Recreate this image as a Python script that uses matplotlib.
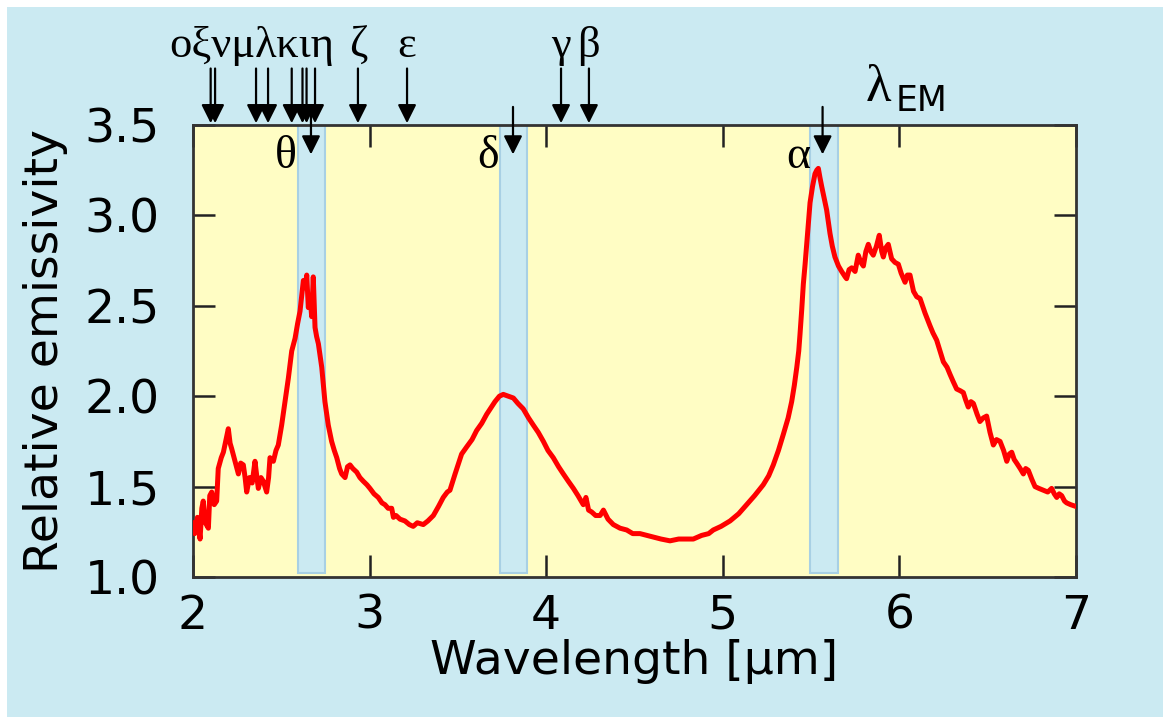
import matplotlib.pyplot as plt
from matplotlib.patches import Rectangle

# Emissivity spectrum
wl = [2.000, 2.010, 2.025, 2.040, 2.050, 2.058, 2.070, 2.087, 2.095, 2.106, 2.120, 2.134,
      2.143, 2.160, 2.172, 2.185, 2.200, 2.210, 2.219, 2.230, 2.238, 2.257, 2.270, 2.285,
      2.295, 2.304, 2.320, 2.335, 2.351, 2.362, 2.370, 2.385, 2.398, 2.417, 2.428, 2.436,
      2.455, 2.470, 2.483, 2.502, 2.521, 2.540, 2.559, 2.578, 2.592, 2.606, 2.615, 2.625,
      2.635, 2.644, 2.653, 2.663, 2.672, 2.681, 2.691, 2.700, 2.710, 2.729, 2.747, 2.766,
      2.785, 2.800, 2.814, 2.830, 2.842, 2.861, 2.875, 2.889, 2.905, 2.927, 2.945, 2.964,
      2.985, 3.002, 3.025, 3.049, 3.070, 3.087, 3.105, 3.125, 3.135, 3.150, 3.172, 3.200,
      3.225, 3.247, 3.270, 3.304, 3.330, 3.361, 3.390, 3.417, 3.440, 3.455, 3.484, 3.521,
      3.550, 3.580, 3.606, 3.635, 3.663, 3.690, 3.710, 3.735, 3.757, 3.785, 3.814, 3.840,
      3.870, 3.900, 3.927, 3.955, 3.984, 4.010, 4.040, 4.070, 4.097, 4.125, 4.154, 4.180,
      4.210, 4.225, 4.240, 4.257, 4.280, 4.305, 4.324, 4.350, 4.380, 4.418, 4.456, 4.490,
      4.531, 4.570, 4.610, 4.650, 4.701, 4.750, 4.790, 4.833, 4.880, 4.920, 4.946, 4.990,
      5.041, 5.090, 5.135, 5.180, 5.229, 5.260, 5.286, 5.315, 5.343, 5.370, 5.390, 5.405,
      5.419, 5.430, 5.437, 5.447, 5.456, 5.466, 5.475, 5.485, 5.494, 5.508, 5.522, 5.532,
      5.541, 5.550, 5.560, 5.575, 5.588, 5.607, 5.620, 5.635, 5.655, 5.673, 5.693, 5.701,
      5.715, 5.730, 5.749, 5.767, 5.782, 5.796, 5.810, 5.824, 5.838, 5.852, 5.870, 5.886,
      5.900, 5.909, 5.922, 5.937, 5.956, 5.975, 5.994, 6.010, 6.032, 6.045, 6.060, 6.080,
      6.098, 6.117, 6.145, 6.173, 6.190, 6.211, 6.230, 6.249, 6.270, 6.287, 6.305, 6.324,
      6.345, 6.362, 6.375, 6.390, 6.405, 6.419, 6.440, 6.456, 6.475, 6.494, 6.513, 6.532,
      6.550, 6.570, 6.590, 6.608, 6.622, 6.636, 6.650, 6.664, 6.684, 6.702, 6.715, 6.730,
      6.750, 6.768, 6.790, 6.815, 6.840, 6.862, 6.877, 6.891, 6.905, 6.919, 6.935, 6.947,
      6.970, 7.000]
emis = [1.30, 1.24, 1.33, 1.21, 1.38, 1.42, 1.30, 1.27, 1.45, 1.47, 1.40, 1.42,
        1.60, 1.66, 1.69, 1.75, 1.82, 1.74, 1.71, 1.67, 1.64, 1.57, 1.63, 1.62,
        1.55, 1.47, 1.55, 1.52, 1.64, 1.55, 1.49, 1.55, 1.53, 1.47, 1.55, 1.66,
        1.64, 1.70, 1.73, 1.84, 1.97, 2.10, 2.25, 2.32, 2.40, 2.47, 2.55, 2.64,
        2.60, 2.67, 2.49, 2.55, 2.44, 2.66, 2.38, 2.33, 2.29, 2.16, 1.97, 1.84,
        1.75, 1.70, 1.66, 1.60, 1.57, 1.55, 1.61, 1.62, 1.60, 1.58, 1.55, 1.53,
        1.51, 1.49, 1.46, 1.44, 1.41, 1.40, 1.38, 1.38, 1.33, 1.34, 1.32, 1.31,
        1.29, 1.28, 1.30, 1.29, 1.31, 1.34, 1.39, 1.44, 1.47, 1.48, 1.57, 1.68,
        1.72, 1.76, 1.81, 1.85, 1.90, 1.94, 1.97, 2.00, 2.01, 2.00, 1.99, 1.96,
        1.93, 1.88, 1.84, 1.80, 1.75, 1.70, 1.66, 1.61, 1.57, 1.53, 1.49, 1.45,
        1.40, 1.44, 1.37, 1.36, 1.34, 1.34, 1.37, 1.32, 1.29, 1.27, 1.26, 1.24,
        1.24, 1.23, 1.22, 1.21, 1.20, 1.21, 1.21, 1.21, 1.23, 1.24, 1.26, 1.28,
        1.31, 1.35, 1.40, 1.45, 1.51, 1.56, 1.62, 1.70, 1.79, 1.88, 1.97, 2.06,
        2.16, 2.25, 2.34, 2.48, 2.62, 2.73, 2.84, 2.96, 3.07, 3.16, 3.23, 3.25,
        3.26, 3.21, 3.16, 3.09, 3.03, 2.90, 2.83, 2.77, 2.72, 2.69, 2.66, 2.65,
        2.70, 2.71, 2.69, 2.78, 2.74, 2.72, 2.80, 2.84, 2.80, 2.78, 2.83, 2.89,
        2.80, 2.77, 2.82, 2.84, 2.76, 2.74, 2.73, 2.68, 2.63, 2.67, 2.67, 2.58,
        2.55, 2.54, 2.46, 2.39, 2.35, 2.31, 2.25, 2.19, 2.16, 2.12, 2.08, 2.04,
        2.03, 2.02, 1.98, 1.94, 1.97, 1.96, 1.90, 1.86, 1.88, 1.89, 1.80, 1.73,
        1.76, 1.75, 1.70, 1.64, 1.68, 1.69, 1.65, 1.63, 1.60, 1.57, 1.60, 1.59,
        1.54, 1.50, 1.49, 1.48, 1.47, 1.49, 1.46, 1.44, 1.46, 1.45, 1.42, 1.41,
        1.40, 1.39]

# emission lines marked above the plot
top_lines = [2.100, 2.125, 2.357, 2.425, 2.559, 2.620, 2.643, 2.691, 2.934, 3.212, 4.084, 4.242]
top_labels = [("οξνμλκιη", 2.335), ("ζ", 2.934), ("ε", 3.212), ("γ", 4.084), ("β", 4.242)]

# filter bands with their own line
bands = [(2.595, 2.747), (3.738, 3.891), (5.494, 5.652)]
band_lines = [2.668, 3.812, 5.565]
band_labels = ["θ", "δ", "α"]

bg = '#cbeaf2'
fig = plt.figure(figsize=(11.63, 7.17), dpi=100, facecolor='white')
fig.patches.append(Rectangle((7/1163, 0), 1, 1 - 7/717, transform=fig.transFigure,
                             facecolor=bg, edgecolor='none', zorder=-10))
ax = fig.add_axes([193/1163, 1 - 577/717, (1076 - 193)/1163, (577 - 125)/717])
ax.set_facecolor('#fffdc4')

for lo, hi in bands:
    ax.axvspan(lo, hi, ymin=0.008, ymax=1, facecolor=bg, edgecolor='#a8d0e4', lw=1.5, zorder=1)

ax.plot(wl, emis, color='red', lw=3.6, zorder=3)

ax.set_xlim(2, 7)
ax.set_ylim(1.0, 3.5)
ax.set_xticks([2, 3, 4, 5, 6, 7])
ax.set_yticks([1.0, 1.5, 2.0, 2.5, 3.0, 3.5])
ax.set_yticklabels(['1.0', '1.5', '2.0', '2.5', '3.0', '3.5'])
ax.tick_params(direction='in', length=16, width=1.8, color='#222222',
               top=True, right=True, labelsize=34, pad=12)
ax.tick_params(axis='y', pad=24)
for s in ax.spines.values():
    s.set_linewidth(2)
    s.set_color('#333333')

ax.set_xlabel('Wavelength [μm]', fontsize=34, labelpad=0)
ax.set_ylabel('Relative emissivity', fontsize=34, labelpad=12)

serif = ['Liberation Serif', 'DejaVu Serif']
arr = dict(arrowstyle='-|>', color='black', lw=1.6, mutation_scale=28, shrinkA=0, shrinkB=0)
for x in top_lines:
    ax.annotate('', xy=(x, 1.004), xytext=(x, 1.125),
                xycoords=('data', 'axes fraction'), textcoords=('data', 'axes fraction'),
                arrowprops=arr, annotation_clip=False)
for txt, x in top_labels:
    ax.text(x, 1.175, txt, transform=ax.get_xaxis_transform(), ha='center', va='center',
            fontsize=32, family=serif, clip_on=False)

for x, lab in zip(band_lines, band_labels):
    ax.annotate('', xy=(x, 0.935), xytext=(x, 1.04),
                xycoords=('data', 'axes fraction'), textcoords=('data', 'axes fraction'),
                arrowprops=arr, annotation_clip=False, zorder=5)
    ax.text(x - 0.14, 0.93, lab, transform=ax.get_xaxis_transform(), ha='center', va='center',
            fontsize=33, family=serif, zorder=5)

ax.text(5.88, 1.082, 'λ', transform=ax.get_xaxis_transform(), ha='center', va='center',
        fontsize=38, family=serif, clip_on=False)
ax.text(5.98, 1.052, 'EM', transform=ax.get_xaxis_transform(), ha='left', va='center',
        fontsize=25, clip_on=False)

fig.savefig('out.png', dpi=100, facecolor=fig.get_facecolor())
